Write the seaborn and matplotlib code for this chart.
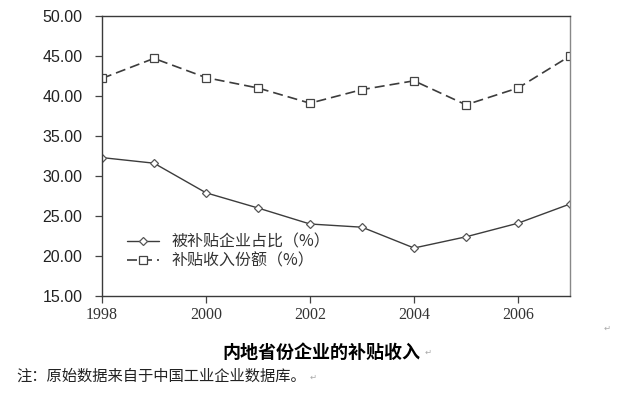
import numpy as np
import pandas as pd
import matplotlib
matplotlib.use("Agg")
import matplotlib.pyplot as plt
import seaborn as sns

# --- data ---
years = [1998, 1999, 2000, 2001, 2002, 2003, 2004, 2005, 2006, 2007]
share_firms = [32.3, 31.6, 27.9, 26.0, 24.0, 23.6, 21.0, 22.4, 24.1, 26.5]      # 被补贴企业占比（%）
share_income = [42.2, 44.7, 42.3, 41.0, 39.1, 40.8, 41.9, 38.9, 41.0, 45.0]    # 补贴收入份额（%）
label_firms = "被补贴企业占比（%）"
label_income = "补贴收入份额（%）"
xtick_years = [1998, 2000, 2002, 2004, 2006]
ytick_vals = [15, 20, 25, 30, 35, 40, 45, 50]
title = "内地省份企业的补贴收入"
note = "注：原始数据来自于中国工业企业数据库。"

df = pd.DataFrame({"year": years, "firms": share_firms, "income": share_income})

sns.set_theme(style="white")
plt.rcParams["font.family"] = ["Noto Sans CJK SC", "DejaVu Sans"]

line_col = "#3c3c3c"
fig = plt.figure(figsize=(6.4, 3.96), dpi=100)
ax = fig.add_axes([102 / 640, 1 - 296 / 396, (570 - 102) / 640, (296 - 16) / 396])

sns.lineplot(data=df, x="year", y="firms", ax=ax, color=line_col, lw=1.0,
             marker="D", markersize=4.2, markerfacecolor="white",
             markeredgecolor="#555555", markeredgewidth=0.9, label=label_firms)
sns.lineplot(data=df, x="year", y="income", ax=ax, color=line_col, lw=1.2,
             dashes=False, marker="s", markersize=5.5, markerfacecolor="white",
             markeredgecolor="#444444", markeredgewidth=0.9, label=label_income)
ax.lines[1].set_dashes((6, 3))

ax.set_xlim(1998, 2007)
ax.set_ylim(15, 50)
ax.set_xticks(xtick_years)
ax.set_xticklabels([str(y) for y in xtick_years], family="Liberation Serif",
                   fontsize=11.5, color="#333333")
ax.set_yticks(ytick_vals)
ax.set_yticklabels([f"{v:.2f}" for v in ytick_vals], family="Liberation Sans",
                   fontsize=11.5, color="#222222")
ax.set_xlabel("")
ax.set_ylabel("")
ax.tick_params(axis="both", direction="out", length=5, width=0.9, color="#444444",
               left=True, bottom=True)
ax.tick_params(axis="y", pad=9)
ax.tick_params(axis="x", pad=3)
for side in ["left", "bottom", "top"]:
    ax.spines[side].set_color("#3a3a3a")
    ax.spines[side].set_linewidth(1.0)
ax.spines["right"].set_color("#888888")
ax.spines["right"].set_linewidth(1.0)

leg = ax.legend(loc="upper left", bbox_to_anchor=(0.04, 0.245), frameon=False,
                fontsize=11.5, handlelength=2.0, handletextpad=0.8,
                labelspacing=0.1, borderaxespad=0)
for t in leg.get_texts():
    t.set_color("#333333")

# caption texts below the plot
fig.text(321 / 640, 1 - 352 / 396, title, ha="center", va="center",
         fontsize=13, fontweight="bold", color="black")
fig.text(16 / 640, 1 - 376 / 396, note, ha="left", va="center",
         fontsize=11, color="#222222")
for x, y in [(428, 352), (313, 377), (607, 328)]:
    fig.text(x / 640, 1 - y / 396, "\u21b5", ha="center", va="center",
             fontsize=6, color="#aaaaaa", family=["DejaVu Sans"])

fig.savefig("out.png", dpi=100)
